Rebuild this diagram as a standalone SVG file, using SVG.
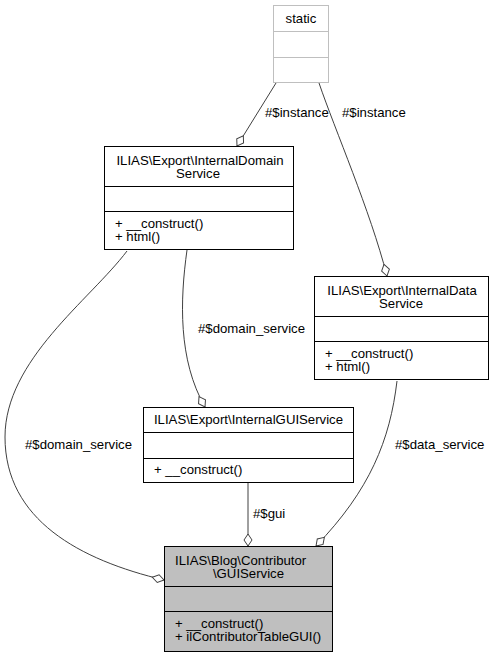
<svg xmlns="http://www.w3.org/2000/svg" width="493" height="659" viewBox="0 0 493 659">
<style>
text{font-family:"Liberation Sans",Arial,sans-serif;font-size:13.2px;fill:#000}
.c{text-anchor:middle}
.box{fill:#fff;stroke:#000;stroke-width:1}
.sbox{fill:#fff;stroke:#bfbfbf;stroke-width:1}
.gbox{fill:#bfbfbf;stroke:#000;stroke-width:1}
.div{stroke:#000;stroke-width:1}
.sdiv{stroke:#bfbfbf;stroke-width:1}
.edge{fill:none;stroke:#404040;stroke-width:1;marker-end:url(#dia)}
</style>
<defs>
<marker id="dia" markerUnits="userSpaceOnUse" markerWidth="14" markerHeight="10" refX="13" refY="5" orient="auto" viewBox="0 0 14 10">
<path d="M1,5 L7,1 L13,5 L7,9 Z" fill="#fff" stroke="#404040" stroke-width="1"/>
</marker>
</defs>
<rect width="493" height="659" fill="#fff"/>
<g id="connectors">
<path class="edge" d="M276,83 L237,146"/>
<text x="265" y="117">#$instance</text>
<path class="edge" d="M319,83 C335,130 370,210 387,276"/>
<text x="342" y="117">#$instance</text>
<path class="edge" d="M187,250 C180,300 178,360 205,407"/>
<text x="198" y="333">#$domain_service</text>
<path class="edge" d="M127,251 C90,300 5,360 5,437 C5,520 80,560 164,580"/>
<text x="25" y="449">#$domain_service</text>
<path class="edge" d="M248,483 L248,546"/>
<text x="253" y="518">#$gui</text>
<path class="edge" d="M397,381 C390,440 370,490 316,546"/>
<text x="395" y="449">#$data_service</text>
</g>
<g id="static">
<rect class="sbox" x="273.5" y="5.5" width="55" height="77"/>
<line class="sdiv" x1="273.5" y1="31.5" x2="328.5" y2="31.5"/>
<line class="sdiv" x1="273.5" y1="57.5" x2="328.5" y2="57.5"/>
<text class="c" x="301" y="23">static</text>
</g>
<g id="InternalDomainService">
<rect class="box" x="104.5" y="146.5" width="189" height="103"/>
<line class="div" x1="104.5" y1="186.5" x2="293.5" y2="186.5"/>
<line class="div" x1="104.5" y1="211.5" x2="293.5" y2="211.5"/>
<text class="c" x="200" y="165">ILIAS\Export\InternalDomain</text>
<text class="c" x="198" y="178">Service</text>
<text x="115" y="228">+ __construct()</text>
<text x="115" y="241">+ html()</text>
</g>
<g id="InternalDataService">
<rect class="box" x="314.5" y="276.5" width="174" height="103"/>
<line class="div" x1="314.5" y1="316.5" x2="488.5" y2="316.5"/>
<line class="div" x1="314.5" y1="341.5" x2="488.5" y2="341.5"/>
<text class="c" x="402" y="295">ILIAS\Export\InternalData</text>
<text class="c" x="401" y="308">Service</text>
<text x="325" y="358">+ __construct()</text>
<text x="325" y="371">+ html()</text>
</g>
<g id="InternalGUIService">
<rect class="box" x="143.5" y="407.5" width="210" height="75"/>
<line class="div" x1="143.5" y1="432.5" x2="353.5" y2="432.5"/>
<line class="div" x1="143.5" y1="458.5" x2="353.5" y2="458.5"/>
<text class="c" x="248.5" y="424">ILIAS\Export\InternalGUIService</text>
<text x="154" y="474">+ __construct()</text>
</g>
<g id="GUIService">
<rect class="gbox" x="164.5" y="546.5" width="168" height="105"/>
<line class="div" x1="164.5" y1="586.5" x2="332.5" y2="586.5"/>
<line class="div" x1="164.5" y1="611.5" x2="332.5" y2="611.5"/>
<text x="175" y="565">ILIAS\Blog\Contributor</text>
<text class="c" x="248.5" y="578">\GUIService</text>
<text x="175" y="628">+ __construct()</text>
<text x="175" y="641">+ ilContributorTableGUI()</text>
</g>
</svg>
